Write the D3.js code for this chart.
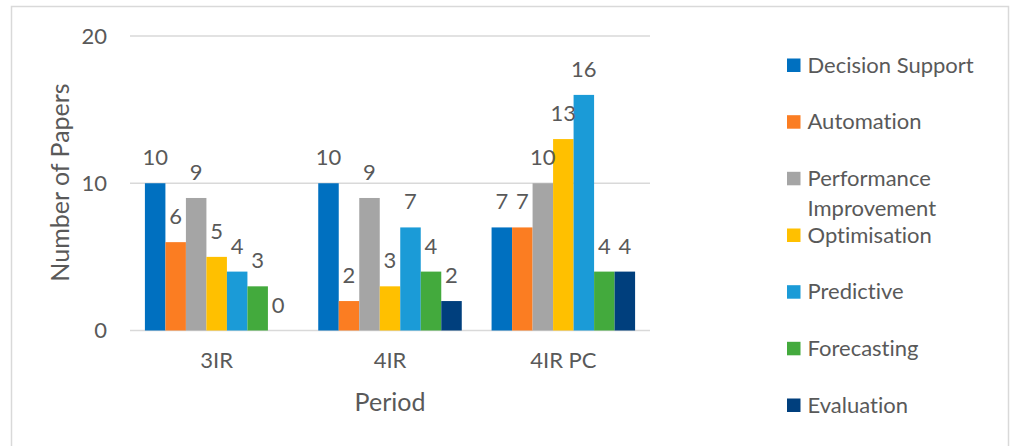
<!DOCTYPE html>
<html><head><meta charset="utf-8">
<script src="https://cdn.jsdelivr.net/npm/d3@7"></script>
<style>body{margin:0;background:#fff}svg{display:block}text{font-family:Lato,"Open Sans",sans-serif;fill:#595959;font-variant-ligatures:none;font-feature-settings:"liga" 0,"dlig" 0}</style>
</head><body><svg id="c" width="1010" height="446"></svg>
<script>
const periods = ["3IR", "4IR", "4IR PC"];
const seriesNames = ["Decision Support", "Automation", "Performance Improvement", "Optimisation", "Predictive", "Forecasting", "Evaluation"];
const seriesColors = ["#0070C0", "#FB7D22", "#A5A5A5", "#FFC000", "#1B9BD7", "#43AA3D", "#003F7D"];
const decisionSupport = [10, 10, 7];
const automation = [6, 2, 7];
const performanceImprovement = [9, 9, 10];
const optimisation = [5, 3, 13];
const predictive = [4, 7, 16];
const forecasting = [3, 4, 4];
const evaluation = [0, 2, 4];
const yTicks = [0, 10, 20];

const seriesValues = [decisionSupport, automation, performanceImprovement, optimisation, predictive, forecasting, evaluation];
const svg = d3.select("#c");
const FS = 22;

svg.append("rect").attr("x", 11.5).attr("y", 6.5).attr("width", 997).attr("height", 460)
  .attr("fill", "#fff").attr("stroke", "#D9D9D9").attr("stroke-width", 1.5);

const x0 = d3.scaleBand().domain(periods).range([130, 650]).paddingInner(0.172).paddingOuter(0.086);
const x1 = d3.scaleBand().domain(seriesNames).range([0, x0.bandwidth()]);
const y = d3.scaleLinear().domain([0, 20]).range([330.5, 36]);

// gridlines
svg.append("g").selectAll("line").data(yTicks).join("line")
  .attr("x1", 130).attr("x2", 650).attr("y1", d => y(d)).attr("y2", d => y(d))
  .attr("stroke", "#D9D9D9").attr("stroke-width", 1.5);

// y axis labels
const yAxis = d3.axisLeft(y).tickValues(yTicks).tickSize(0).tickPadding(0);
const gy = svg.append("g").attr("transform", "translate(107,0)").call(yAxis);
gy.select(".domain").remove();
gy.selectAll("text").style("font-size", FS + "px").style("fill", "#595959").style("font-family", "Lato");

// x axis labels
const xAxis = d3.axisBottom(x0).tickSize(0).tickPadding(0);
const gx = svg.append("g").attr("transform", "translate(0,352)").call(xAxis);
gx.select(".domain").remove();
gx.selectAll("text").attr("dy", "0.71em").style("font-size", FS + "px").style("fill", "#595959").style("font-family", "Lato");

// bars
const groups = svg.append("g").selectAll("g").data(periods).join("g")
  .attr("transform", p => `translate(${x0(p)},0)`);
groups.each(function(p, pi) {
  const g = d3.select(this);
  const data = seriesNames.map((s, si) => ({s, si, v: seriesValues[si][pi]}));
  g.selectAll("rect").data(data).join("rect")
    .attr("x", d => x1(d.s)).attr("width", x1.bandwidth())
    .attr("y", d => y(d.v)).attr("height", d => y(0) - y(d.v))
    .attr("fill", d => seriesColors[d.si]);
  g.selectAll("text").data(data).join("text")
    .attr("x", d => x1(d.s) + x1.bandwidth() / 2)
    .attr("y", d => y(d.v) - 18)
    .attr("text-anchor", "middle").style("font-size", FS + "px")
    .text(d => d.v);
});

// axis titles
svg.append("text").attr("transform", "translate(69,182.5) rotate(-90)")
  .attr("text-anchor", "middle").style("font-size", "25px").text("Number of Papers");
svg.append("text").attr("x", 390).attr("y", 411).attr("text-anchor", "middle")
  .style("font-size", "25px").text("Period");

// legend
const legendY = [65, 121.7, 178.3, 235, 291.7, 348.3, 405];
const lg = svg.append("g").selectAll("g").data(seriesNames).join("g")
  .attr("transform", (d, i) => `translate(787,${legendY[i]})`);
lg.append("rect").attr("x", 0).attr("y", -6.5).attr("width", 13.5).attr("height", 13.5)
  .attr("fill", (d, i) => seriesColors[i]);
lg.append("text").attr("x", 20.5).attr("dy", "0.35em").style("font-size", FS + "px")
  .each(function(d) {
    const t = d3.select(this);
    if (d === "Performance Improvement") {
      t.append("tspan").attr("x", 20.5).text("Performance");
      t.append("tspan").attr("x", 20.5).attr("dy", 30).text("Improvement");
    } else t.text(d);
  });
</script></body></html>
